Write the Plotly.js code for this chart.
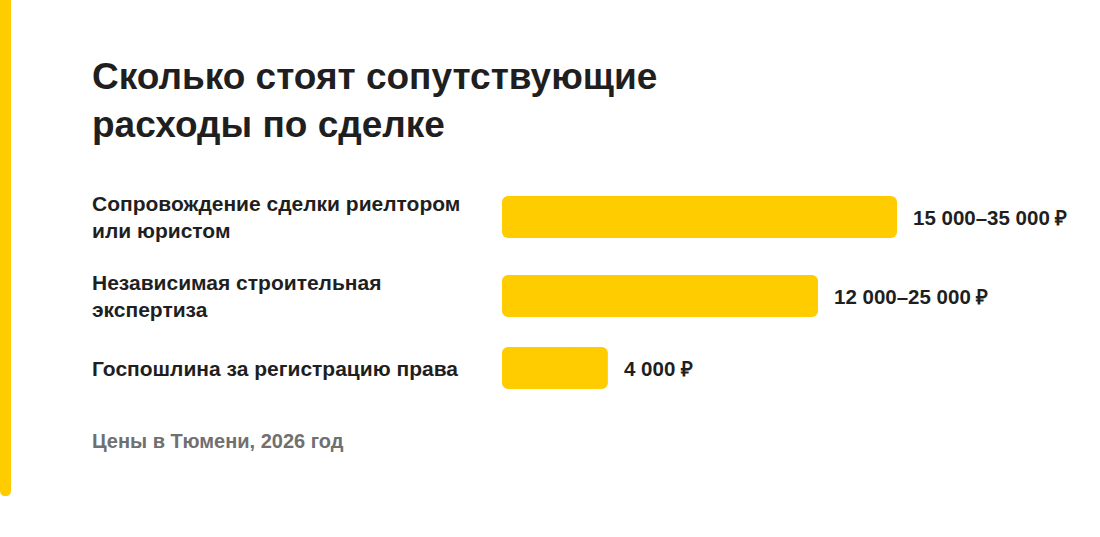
<!DOCTYPE html>
<html>
<head>
<meta charset="utf-8">
<script src="https://cdn.plot.ly/plotly-3.0.1.min.js"></script>
<style>
  html, body { margin: 0; padding: 0; background: #ffffff; }
  #chart { width: 1100px; height: 537px; }
</style>
</head>
<body>
<div id="chart"></div>
<script>
// ---- data ----
const categories = [
  "Сопровождение сделки риелтором<br>или юристом",
  "Независимая строительная<br>экспертиза",
  "Госпошлина за регистрацию права"
];
// relative bar length (longest = 100), as drawn in the picture
const barValues = [100, 80, 26.8];
const valueLabels = ["15 000–35 000 ₽", "12 000–25 000 ₽", "4 000 ₽"];
const titleText = "Сколько стоят сопутствующие<br>расходы по сделке";
const noteText = "Цены в Тюмени, 2026 год";

// ---- layout logic ----
const W = 1100, H = 537;
const plotLeft = 502, plotRight = 0;
const plotW = W - plotLeft - plotRight;
const pxPerUnit = 3.95;             // 100 units -> 395 px
const FONT = "Liberation Sans, Arial, sans-serif";
const YELLOW = "#FFCC00";
const TEXT = "#1f1f1f";

// row positions (px from top) derived from the number of label lines
const firstCenter = 217;
const rowH = n => 51 + 14 * n;
const lines = categories.map(c => c.split("<br>").length);
const yPos = [];
categories.forEach((c, i) => {
  if (i === 0) yPos.push(firstCenter);
  else yPos.push(yPos[i - 1] + (rowH(lines[i - 1]) + rowH(lines[i])) / 2);
});

// each bar drawn as two overlapping pieces, so both ends get rounded corners
const rightPiece = {
  type: "bar", orientation: "h",
  base: barValues.map(v => v * 0.3), x: barValues.map(v => v * 0.7), y: yPos,
  width: 42,
  marker: { color: YELLOW, cornerradius: 6, line: { width: 0 } },
  hoverinfo: "skip"
};
const leftPiece = {
  type: "bar", orientation: "h",
  base: barValues.map(v => v * 0.7), x: barValues.map(v => -v * 0.7), y: yPos,
  width: 42,
  marker: { color: YELLOW, cornerradius: 6, line: { width: 0 } },
  hoverinfo: "skip"
};

const labelX = (90 - plotLeft) / plotW;
const annotations = [];
categories.forEach((c, i) => {
  annotations.push({
    xref: "paper", yref: "y",
    x: labelX, y: yPos[i],
    xanchor: "left", yanchor: "middle", align: "left",
    text: "<b>" + c + "</b>", showarrow: false,
    font: { family: FONT, size: 21, color: TEXT }
  });
  annotations.push({
    xref: "x", yref: "y",
    x: barValues[i], y: yPos[i], xshift: 14,
    xanchor: "left", yanchor: "middle",
    text: "<b>" + valueLabels[i] + "</b>", showarrow: false,
    font: { family: FONT, size: 20.5, color: TEXT }
  });
});
annotations.push({
  xref: "paper", yref: "y",
  x: labelX, y: 441,
  xanchor: "left", yanchor: "middle",
  text: "<b>" + noteText + "</b>", showarrow: false,
  font: { family: FONT, size: 20, color: "#707070" }
});

const layout = {
  width: W, height: H,
  paper_bgcolor: "#ffffff", plot_bgcolor: "#ffffff",
  margin: { l: plotLeft, r: plotRight, t: 0, b: 0, pad: 0 },
  showlegend: false,
  barmode: "overlay",
  title: {
    text: "<b>" + titleText + "</b>",
    font: { family: FONT, size: 37, color: TEXT },
    x: 92 / W, xanchor: "left", xref: "container",
    y: 1 - 89 / H, yanchor: "top", yref: "container"
  },
  xaxis: { range: [0, plotW / pxPerUnit], visible: false, fixedrange: true },
  yaxis: { range: [H, 0], visible: false, fixedrange: true },
  annotations: annotations,
  shapes: [{
    type: "path", xref: "paper", yref: "y", layer: "above",
    path: (function () {
      const x0 = -plotLeft / plotW, x1 = (11 - plotLeft) / plotW;
      const r = 5 / plotW;
      return `M ${x0},-2 L ${x1},-2 L ${x1},490 Q ${x1},496 ${x1 - r},496 L ${x0 + r},496 Q ${x0},496 ${x0},490 Z`;
    })(),
    fillcolor: YELLOW, line: { width: 0 }
  }]
};

Plotly.newPlot("chart", [rightPiece, leftPiece], layout, { displayModeBar: false, staticPlot: true });
</script>
</body>
</html>
